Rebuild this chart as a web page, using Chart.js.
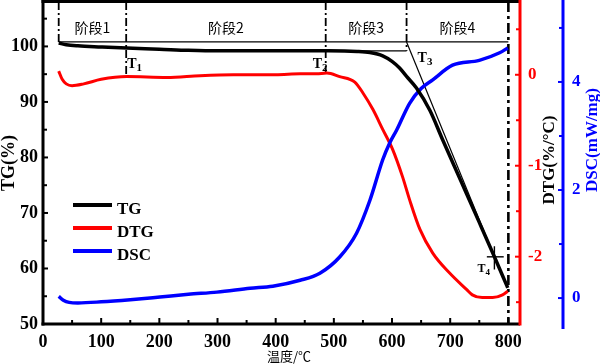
<!DOCTYPE html>
<html><head><meta charset="utf-8">
<script src="https://cdn.jsdelivr.net/npm/chart.js@4.4.1/dist/chart.umd.min.js"></script>
<style>html,body{margin:0;padding:0;background:#fff}canvas{display:block}</style>
</head><body><canvas id="c" width="600" height="364"></canvas>
<script>
// ---------- data ----------
const tgTemp  = [27, 40, 60, 100, 144, 200, 250, 300, 400, 490, 540, 562, 584, 600, 613, 625, 642, 665, 687, 720, 750, 776, 799];
const tgVal   = [100.6, 100.3, 100.1, 99.9, 99.7, 99.5, 99.3, 99.2, 99.2, 99.2, 99.1, 98.9, 98.3, 97.3, 96.1, 94.6, 92.5, 88.5, 83.2, 75.4, 68.3, 62.1, 56.5];

const dtgTemp = [27, 33, 40, 50, 70, 100, 144, 213, 270, 327, 400, 442, 470, 488, 510, 536, 550, 567, 584, 601, 618, 630, 648, 670, 699, 728, 738, 755, 773, 790, 799];
const dtgVal  = [0.04, -0.05, -0.10, -0.12, -0.10, -0.05, -0.02, -0.03, -0.01, 0.0, 0.0, 0.01, 0.01, 0.02, -0.02, -0.08, -0.2, -0.38, -0.60, -0.82, -1.12, -1.37, -1.70, -1.96, -2.18, -2.36, -2.42, -2.45, -2.45, -2.42, -2.38];

const dscTemp = [27, 35, 45, 60, 100, 150, 201, 250, 299, 356, 395, 442, 476, 510, 539, 562, 584, 596, 608, 630, 650, 670, 704, 750, 785, 799];
const dscVal  = [0.03, -0.04, -0.08, -0.09, -0.07, -0.03, 0.02, 0.07, 0.11, 0.18, 0.22, 0.33, 0.46, 0.76, 1.2, 1.81, 2.56, 2.87, 3.11, 3.6, 3.88, 4.04, 4.31, 4.4, 4.54, 4.63];

const seriesNames = ['TG', 'DTG', 'DSC'];
const stageBounds = [27, 143, 486, 625, 800];        // temperatures of dash-dot stage lines
const stageLineEnd = [100.6, 94.5, 95.4, 99.2, 50];   // TG value where each line stops
const stageNames  = ['阶段1', '阶段2', '阶段3', '阶段4'];
const topLineTG = 100.8;
const baseTG = 99.2;
const t4Temp = 776, t4TG = 62.1;

const xTickVals   = [0, 100, 200, 300, 400, 500, 600, 700, 800];
const tgTickVals  = [50, 60, 70, 80, 90, 100];
const dtgTickVals = [-2, -1, 0];
const dscTickVals = [0, 2, 4];

// ---------- styling ----------
const SERIF = "'Liberation Serif','Times New Roman',serif";
const CJK = "'Noto Sans CJK SC','Noto Sans',sans-serif";
const RED = '#ff0000', BLUE = '#0000ff', BLACK = '#000000';

const pts = (xs, ys) => xs.map((x, i) => ({x, y: ys[i]}));
const lineDs = (data, color, width, dash) => ({
  data, borderColor: color, borderWidth: width, borderDash: dash || [],
  pointRadius: 0, fill: false, yAxisID: 'y', tension: 0, order: 5
});

const datasets = [
  {label: seriesNames[0], data: pts(tgTemp, tgVal), yAxisID: 'y', borderColor: BLACK, borderWidth: 3.5,
   pointRadius: 0, cubicInterpolationMode: 'monotone', order: 1},
  {label: seriesNames[1], data: pts(dtgTemp, dtgVal), yAxisID: 'yD', borderColor: RED, borderWidth: 3,
   pointRadius: 0, cubicInterpolationMode: 'monotone', order: 3},
  {label: seriesNames[2], data: pts(dscTemp, dscVal), yAxisID: 'yS', borderColor: BLUE, borderWidth: 3.5,
   pointRadius: 0, cubicInterpolationMode: 'monotone', order: 2},
  lineDs([{x: stageBounds[0], y: topLineTG}, {x: stageBounds[4], y: topLineTG}], BLACK, 1.3),
  lineDs([{x: stageBounds[2], y: baseTG}, {x: stageBounds[3], y: baseTG}], BLACK, 1.3),
  lineDs([{x: stageBounds[3], y: topLineTG}, {x: t4Temp, y: t4TG}], BLACK, 1.2),
  lineDs([{x: t4Temp - 13, y: t4TG}, {x: t4Temp + 16, y: t4TG}], BLACK, 1.4),
  lineDs([{x: t4Temp, y: t4TG + 1.9}, {x: t4Temp, y: t4TG - 2.3}], BLACK, 1.4),
];
stageBounds.forEach((t, i) => {
  datasets.push(lineDs([{x: t, y: 108}, {x: t, y: stageLineEnd[i]}], BLACK, i === 4 ? 2.6 : 1.8, i === 4 ? [10, 4, 3, 4] : [8, 3, 2, 3]));
});

const setTicks = vals => s => { s.ticks = vals.map(v => ({value: v})); };
const fitBox = (w, h) => s => {
  if (w !== null) s.width = w;
  if (h !== null) s.height = h;
  s.paddingTop = 0; s.paddingBottom = 0; s.paddingLeft = 0; s.paddingRight = 0;
};

const deco = {
  id: 'deco',
  afterDatasetsDraw(chart) {
    const {ctx, chartArea: a, scales: {x, y, yD, yS}} = chart;
    ctx.save();
    ctx.lineCap = 'butt';
    const seg = (x1, y1, x2, y2, c, w) => { ctx.strokeStyle = c; ctx.lineWidth = w; ctx.beginPath(); ctx.moveTo(x1, y1); ctx.lineTo(x2, y2); ctx.stroke(); };
    seg(a.left - 1.5, 1.5, a.right, 1.5, BLACK, 3);
    seg(a.left, 0, a.left, a.bottom + 1.5, BLACK, 3);
    seg(a.left - 1.5, a.bottom, a.right, a.bottom, BLACK, 3);
    seg(a.right, 0, a.right, a.bottom + 1.5, RED, 3);
    seg(yS.left, 0, yS.left, a.bottom + 5, BLUE, 3);

    const minors = (vals, min, max) => {
      const st = vals[1] - vals[0], out = [];
      for (let v = vals[0] - st / 2; v <= max; v += st) if (v >= min) out.push(v);
      return out;
    };
    xTickVals.forEach(v => { const p = x.getPixelForValue(v); seg(p, a.bottom, p, a.bottom - 6, BLACK, 2); });
    minors(xTickVals, 1, 815).forEach(v => { const p = x.getPixelForValue(v); seg(p, a.bottom, p, a.bottom - 4, BLACK, 2); });
    tgTickVals.forEach(v => { const p = y.getPixelForValue(v); seg(a.left, p, a.left + 5, p, BLACK, 2); });
    minors(tgTickVals, 50.1, 108).forEach(v => { const p = y.getPixelForValue(v); seg(a.left, p, a.left + 4, p, BLACK, 2); });
    dtgTickVals.forEach(v => { const p = yD.getPixelForValue(v); seg(a.right, p, a.right - 5, p, RED, 2); });
    minors(dtgTickVals, yD.min, yD.max).forEach(v => { const p = yD.getPixelForValue(v); seg(a.right, p, a.right - 4, p, RED, 2); });
    dscTickVals.forEach(v => { const p = yS.getPixelForValue(v); seg(yS.left, p, yS.left - 5, p, BLUE, 2); });
    minors(dscTickVals, yS.min, yS.max).forEach(v => { const p = yS.getPixelForValue(v); seg(yS.left, p, yS.left - 4, p, BLUE, 2); });

    ctx.textAlign = 'center'; ctx.textBaseline = 'middle';
    ctx.fillStyle = BLACK;
    ctx.font = "bold 18px " + SERIF;
    ctx.save(); ctx.translate(9, (a.top + a.bottom) / 2); ctx.rotate(-Math.PI / 2); ctx.fillText('TG(%)', 0, 0); ctx.restore();
    ctx.font = "bold 17px " + SERIF;
    ctx.save(); ctx.translate(550, 160); ctx.rotate(-Math.PI / 2); ctx.fillText('DTG(%/°C)', 0, 0); ctx.restore();
    ctx.fillStyle = BLUE;
    ctx.save(); ctx.translate(593, 140); ctx.rotate(-Math.PI / 2); ctx.fillText('DSC(mW/mg)', 0, 0); ctx.restore();
    ctx.fillStyle = BLACK;
    ctx.font = "13px " + CJK;
    ctx.fillText('温度/℃', 289, 356);

    ctx.font = "14px " + CJK;
    stageNames.forEach((n, i) => {
      const cx = (x.getPixelForValue(stageBounds[i]) + x.getPixelForValue(stageBounds[i + 1])) / 2;
      ctx.fillText(n, cx, 28);
    });

    const drawT = (sub, xl, base, size) => {
      ctx.textAlign = 'left'; ctx.textBaseline = 'alphabetic';
      ctx.font = "bold " + size + "px " + SERIF;
      ctx.fillText('T', xl, base);
      const w = ctx.measureText('T').width;
      ctx.font = "bold " + Math.round(size * 0.75) + "px " + SERIF;
      ctx.fillText(sub, xl + w, base + 3);
    };
    drawT('1', x.getPixelForValue(stageBounds[1]) + 1, 68, 14);
    drawT('2', x.getPixelForValue(stageBounds[2]) - 13, 68, 14);
    drawT('3', x.getPixelForValue(stageBounds[3]) + 11, 62, 14);
    drawT('4', x.getPixelForValue(t4Temp) - 17, 272, 12);

    const ly = [205, 228, 251];
    [0, 1, 2].forEach(i => {
      const ds = chart.data.datasets[i];
      seg(73, ly[i], 112, ly[i], ds.borderColor, 4);
      ctx.fillStyle = BLACK; ctx.font = "bold 17px " + SERIF;
      ctx.textAlign = 'left'; ctx.textBaseline = 'alphabetic';
      ctx.fillText(ds.label, 117, ly[i] + 9);
    });
    ctx.restore();
  }
};

new Chart(document.getElementById('c'), {
  type: 'line',
  data: {datasets},
  plugins: [deco],
  options: {
    responsive: false, animation: false, devicePixelRatio: 1,
    layout: {padding: {top: 2, left: 0, right: 0, bottom: 0}},
    plugins: {legend: {display: false}, tooltip: {enabled: false}},
    scales: {
      x: {type: 'linear', position: 'bottom', min: 0, max: 820,
          grid: {display: false, drawTicks: false}, border: {display: false},
          afterBuildTicks: setTicks(xTickVals), afterFit: fitBox(null, 40),
          ticks: {padding: 8, color: BLACK, autoSkip: false, maxRotation: 0,
                  font: {family: SERIF, size: 18, weight: 'bold'}}},
      y: {type: 'linear', position: 'left', min: 50, max: 108,
          grid: {display: false, drawTicks: false}, border: {display: false},
          afterBuildTicks: setTicks(tgTickVals), afterFit: fitBox(43, null),
          ticks: {padding: 5, color: BLACK, font: {family: SERIF, size: 18, weight: 'bold'}}},
      yD: {type: 'linear', position: 'right', min: -2.74, max: 0.80, weight: 0,
           grid: {display: false, drawTicks: false}, border: {display: false},
           afterBuildTicks: setTicks(dtgTickVals), afterFit: fitBox(43, null),
           ticks: {padding: 8, color: RED, callback: v => String(v), font: {family: SERIF, size: 17, weight: 'bold'}}},
      yS: {type: 'linear', position: 'right', min: -0.48, max: 5.48, weight: 1,
           grid: {display: false, drawTicks: false}, border: {display: false},
           afterBuildTicks: setTicks(dscTickVals), afterFit: fitBox(37, null),
           ticks: {padding: 9, color: BLUE, callback: v => String(v), font: {family: SERIF, size: 17, weight: 'bold'}}}
    }
  }
});
</script></body></html>
